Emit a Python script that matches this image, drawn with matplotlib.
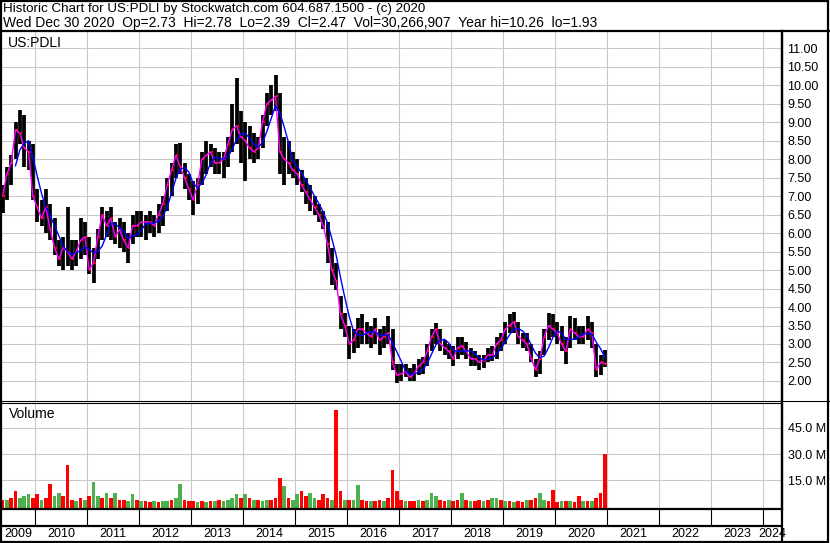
"""
Stockwatch style historic chart for US:PDLI (2009-2020), monthly approximation
of the daily bars, moving averages and volume.
"""

import numpy as np
import pandas as pd
import matplotlib
matplotlib.use("Agg")
import matplotlib.pyplot as plt
from matplotlib.lines import Line2D
from matplotlib.patches import Rectangle

plt.rcParams["font.family"] = ["Liberation Sans", "DejaVu Sans"]

W, H = 830, 543

# ----------------------------------------------------------------------
# data (monthly, May 2009 .. Dec 2020)
# ----------------------------------------------------------------------
months = pd.period_range("2009-05", "2020-12", freq="M")

high = [
    7.3, 7.8, 8.1, 9.0, 9.33, 9.2, 8.5, 8.4,                       # 2009
    7.2, 6.9, 7.2, 6.8, 6.4, 5.8, 5.9, 6.7, 5.8, 5.8, 6.4, 6.3,     # 2010
    5.9, 5.6, 6.1, 6.7, 6.6, 6.7, 6.3, 6.4, 6.3, 6.0, 6.5, 6.6,     # 2011
    6.6, 6.5, 6.6, 6.5, 6.8, 7.0, 7.5, 7.9, 8.4, 8.45, 7.9, 7.6,    # 2012
    7.4, 7.5, 8.2, 8.5, 8.4, 8.3, 8.2, 8.2, 8.6, 9.5, 10.2, 9.3,    # 2013
    9.0, 8.9, 8.7, 8.6, 9.2, 9.8, 10.0, 10.28, 9.8, 8.6, 8.5, 8.2,  # 2014
    8.0, 7.7, 7.5, 7.3, 7.0, 6.8, 6.6, 6.3, 5.6, 5.2, 4.3, 3.85,    # 2015
    3.5, 3.4, 3.7, 3.8, 3.6, 3.5, 3.7, 3.4, 3.5, 3.75, 3.4, 2.45,   # 2016
    2.45, 2.45, 2.35, 2.45, 2.6, 2.65, 3.0, 3.4, 3.56, 3.4, 3.1, 3.0,  # 2017
    2.95, 3.2, 3.2, 3.05, 2.9, 2.8, 2.7, 2.7, 2.9, 2.95, 3.2, 3.3,  # 2018
    3.6, 3.8, 3.87, 3.6, 3.3, 3.3, 3.0, 2.6, 2.8, 3.4, 3.83, 3.8,   # 2019
    3.6, 3.5, 3.2, 3.75, 3.7, 3.5, 3.5, 3.75, 3.6, 3.0, 2.7, 2.85,  # 2020
]
low = [
    6.55, 6.9, 7.3, 8.0, 8.4, 7.8, 7.7, 6.9,
    6.3, 6.2, 6.0, 5.8, 5.4, 5.1, 5.0, 5.1, 5.0, 5.1, 5.3, 5.4,
    4.9, 4.65, 5.3, 5.8, 5.9, 5.8, 5.7, 5.6, 5.5, 5.2, 5.7, 5.9,
    5.9, 5.8, 6.0, 5.9, 6.0, 6.2, 6.6, 7.0, 7.5, 7.6, 7.2, 6.9,
    6.5, 6.8, 7.3, 7.6, 7.8, 7.6, 7.6, 7.5, 7.8, 8.2, 8.4, 7.9,
    7.4, 8.0, 7.9, 8.0, 8.3, 8.9, 9.2, 9.3, 7.6, 7.3, 7.6, 7.5,
    7.3, 7.1, 6.8, 6.6, 6.5, 6.3, 6.1, 5.2, 4.6, 4.45, 3.4, 3.2,
    2.6, 2.75, 2.9, 3.0, 3.0, 2.9, 3.0, 2.7, 2.9, 3.0, 2.3, 1.95,
    2.0, 2.1, 2.0, 2.0, 2.15, 2.2, 2.4, 2.8, 3.0, 2.8, 2.7, 2.6,
    2.4, 2.6, 2.7, 2.6, 2.4, 2.4, 2.3, 2.35, 2.5, 2.55, 2.6, 2.8,
    3.0, 3.3, 3.3, 3.0, 2.9, 2.8, 2.5, 2.1, 2.2, 2.7, 3.1, 3.2,
    3.0, 2.8, 2.45, 2.9, 3.1, 3.0, 3.0, 3.1, 2.9, 2.1, 2.15, 2.39,
]
close = [
    7.0, 7.6, 7.9, 8.8, 8.7, 8.3, 8.2, 7.0,
    6.7, 6.4, 6.7, 6.1, 5.6, 5.3, 5.6, 5.5, 5.3, 5.5, 5.8, 5.9,
    5.0, 5.2, 5.9, 6.5, 6.2, 6.4, 5.9, 6.1, 5.8, 5.6, 6.2, 6.2,
    6.3, 6.3, 6.3, 6.2, 6.5, 6.8, 7.3, 7.7, 8.1, 7.8, 7.5, 7.2,
    6.9, 7.3, 8.0, 8.1, 8.2, 7.9, 7.9, 8.0, 8.4, 8.8, 8.9, 8.6,
    8.5, 8.3, 8.2, 8.3, 9.0, 9.5, 9.6, 9.7, 8.2, 8.0, 7.9, 7.7,
    7.6, 7.3, 7.1, 6.9, 6.7, 6.5, 6.2, 5.7, 5.0, 4.7, 3.8, 3.5,
    3.0, 3.1, 3.4, 3.4, 3.3, 3.2, 3.4, 3.1, 3.2, 3.3, 2.5, 2.15,
    2.2, 2.25, 2.1, 2.2, 2.4, 2.5, 2.8, 3.2, 3.4, 3.0, 2.9, 2.8,
    2.6, 2.9, 2.95, 2.8, 2.6, 2.6, 2.5, 2.55, 2.7, 2.7, 3.0, 3.1,
    3.4, 3.5, 3.6, 3.2, 3.1, 3.0, 2.6, 2.3, 2.6, 3.2, 3.5, 3.4,
    3.3, 3.0, 2.8, 3.4, 3.3, 3.2, 3.2, 3.4, 3.3, 2.3, 2.5, 2.47,
]
# volume in millions, tallest daily bar of the month
volume = [
    3.5, 4, 5, 9, 5, 6, 7, 5,
    7, 4, 5, 13, 6, 8, 6, 24, 4, 3, 5, 4,
    6, 14, 6, 5, 8, 5, 8, 4, 4, 3, 7, 4,
    3, 3, 2.5, 3, 2.5, 3, 3, 3.5, 5, 13, 4, 3,
    3, 2.5, 3, 2.5, 3, 3, 3.5, 3, 4, 5, 7, 5,
    7, 5, 3.5, 4, 3, 4, 4, 5, 16.5, 12, 5, 4,
    7, 9, 6, 8, 5, 4, 7, 5, 4, 55, 9, 4,
    4, 4, 12.5, 4, 3, 3, 3, 4, 3, 5, 21, 9,
    4, 3, 3, 3, 4, 3, 4, 8, 6, 3.5, 3, 4,
    3, 4, 8, 3.5, 3, 3, 4, 3, 3.5, 5, 5, 3.5,
    3, 3, 2.5, 3, 2.5, 4, 4, 5, 8, 4, 3, 9.5,
    2.5, 3, 3, 3, 2.5, 6, 3, 3, 3, 5, 8, 30.3,
]
# g = up bar (green), r = down bar (red), one letter per month
vol_dir = (
    "rgrrgggr"
    "rgrrggrrrgrg"
    "rggrgrgrrggr"
    "grrgrggrggrr"
    "rgrgrgrggggr"
    "grgrggrrrgrg"
    "grrggrrrgrrg"
    "rggrrgrrgrrr"
    "rgrrgrgggrrg"
    "rrgrgrrgrggr"
    "grgrrgrrggrr"
    "rgrgrrgrgrrr"
)

year_labels = list(range(2009, 2025))
price_ticks = np.arange(2.0, 11.01, 0.5)
vol_ticks = [15, 30, 45]

TITLE1 = "Historic Chart for US:PDLI by Stockwatch.com 604.687.1500 - (c) 2020"
TITLE2 = ("Wed Dec 30 2020  Op=2.73  Hi=2.78  Lo=2.39  Cl=2.47  "
          "Vol=30,266,907  Year hi=10.26  lo=1.93")

# ----------------------------------------------------------------------
# layout helpers (pixel -> figure fraction)
# ----------------------------------------------------------------------
def fx(px):
    return px / W


def fy(py):
    return 1 - py / H


def box(x0, y0, x1, y1):
    return [fx(x0), fy(y1), fx(x1) - fx(x0), fy(y0) - fy(y1)]


XL = (2009.346, 2024.365)
GRID = "#c8c8c8"
t = np.array([m.year + (m.month - 0.5) / 12 for m in months])
ma_long = pd.Series(close).rolling(4).mean()

fig = plt.figure(figsize=(W / 100, H / 100), dpi=100)

# --- price panel ---
ax = fig.add_axes(box(1, 31, 782, 400.5))
ax.set_xlim(*XL)
ax.set_ylim(1.471, 11.468)
ax.set_axisbelow(True)
ax.grid(color=GRID, lw=0.75)
ax.set_xticks(range(2010, 2025))
ax.set_xticklabels([])
ax.yaxis.tick_right()
ax.set_yticks(price_ticks)
ax.set_yticklabels([f"{v:.2f}" for v in price_ticks], fontsize=9)
ax.tick_params(length=0, pad=4)
ax.vlines(t, low, high, color="black", lw=2.7)
ax.plot(t + 0.3 / 12, close, "s", ms=1.6, color="#ff0000", mew=0)
ax.plot(t, close, color="#ff00ff", lw=1)
ax.plot(t, ma_long, color="#0000ff", lw=1)
for s in ["top", "left"]:
    ax.spines[s].set_visible(False)
ax.spines["right"].set_linewidth(1.6)
ax.spines["bottom"].set_linewidth(0.8)
fig.text(fx(8), fy(47), "US:PDLI", fontsize=10, va="baseline")

# --- volume panel ---
vx = fig.add_axes(box(1, 402.7, 782, 509.3))
vx.set_xlim(*XL)
vx.set_ylim(-1.6, 59.4)
vx.set_axisbelow(True)
vx.grid(color=GRID, lw=0.75)
vx.set_xticks(range(2010, 2025))
vx.set_xticklabels([])
vx.yaxis.tick_right()
vx.set_yticks(vol_ticks)
vx.set_yticklabels([f"{v:.1f} M" for v in vol_ticks], fontsize=9)
vx.tick_params(length=0, pad=4)
colors = ["#ff0000" if d == "r" else "#4cb04c" for d in vol_dir]
vx.bar(t, np.array(volume) + 1.6, bottom=-1.6, width=0.8 / 12, color=colors)
vx.spines["left"].set_visible(False)
vx.spines["top"].set_linewidth(0.8)
vx.spines["right"].set_linewidth(1.6)
vx.spines["bottom"].set_linewidth(1.6)
fig.text(fx(9), fy(418), "Volume", fontsize=10, va="baseline")

# --- date row ---
dx = fig.add_axes(box(1, 509.3, 782, 541.5))
dx.set_xlim(*XL)
dx.set_ylim(0, 1)
dx.axis("off")
mid = (541.5 - 526) / (541.5 - 509.3)
dx.vlines(range(2010, 2025), mid, 1, color="black", lw=0.8)
dx.axhline(mid, color="black", lw=1.6)
for yr in year_labels:
    a, b = max(yr, XL[0]), min(yr + 1, XL[1])
    dx.text((a + b) / 2, mid / 2, str(yr), ha="center", va="center",
            fontsize=9, clip_on=False)

# --- frame lines ---
fig.add_artist(Line2D([0, 1], [fy(30.5)] * 2, color="black", lw=1.6))
fig.add_artist(Line2D([fx(782), 1], [fy(400.7)] * 2, color="black", lw=0.8))
fig.add_artist(Line2D([fx(782)] * 2, [fy(31), fy(543)], color="black", lw=1.6))
fig.add_artist(Rectangle((0.001, 0.002), 0.997, 0.997, transform=fig.transFigure,
                         fill=False, ec="black", lw=1.6))

fig.text(fx(3), fy(12), TITLE1, fontsize=9.6, va="baseline")
fig.text(fx(3), fy(27.3), TITLE2, fontsize=10, va="baseline")

fig.savefig("out.png", dpi=100)
